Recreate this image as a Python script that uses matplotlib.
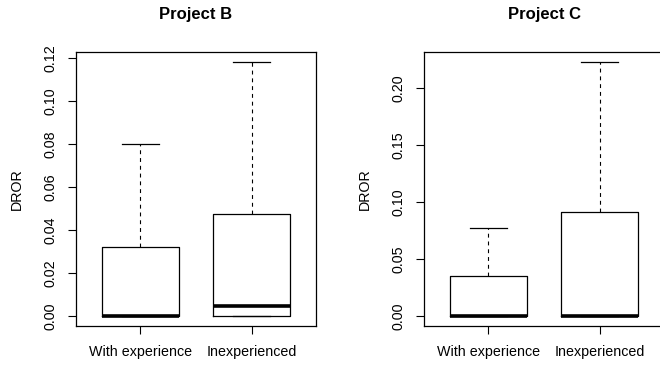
import matplotlib
matplotlib.use('Agg')
import matplotlib.pyplot as plt

plt.rcParams['font.family'] = ['Liberation Sans', 'DejaVu Sans']

groups = ['With experience', 'Inexperienced']

# five-number summaries
b_low = [0.0, 0.0]
b_q1 = [0.0, 0.0]
b_med = [0.0, 0.0046]
b_q3 = [0.0321, 0.0474]
b_high = [0.0798, 0.1181]

c_low = [0.0, 0.0]
c_q1 = [0.0, 0.0]
c_med = [0.0, 0.0]
c_q3 = [0.0353, 0.0910]
c_high = [0.0767, 0.2224]

b_ticks = [0.00, 0.02, 0.04, 0.06, 0.08, 0.10, 0.12]
b_ticklabels = ['0.00', '0.02', '0.04', '0.06', '0.08', '0.10', '0.12']
c_ticks = [0.00, 0.05, 0.10, 0.15, 0.20]
c_ticklabels = ['0.00', '0.05', '0.10', '0.15', '0.20']


def stats(low, q1, med, q3, high):
    return [dict(whislo=lo, q1=a, med=m, q3=b, whishi=hi, fliers=[])
            for lo, a, m, b, hi in zip(low, q1, med, q3, high)]


def rbox(ax, st, title, ticks, ticklabels):
    ax.bxp(st, positions=[1, 2], widths=0.7, showfliers=False,
           boxprops=dict(color='black', linewidth=0.9),
           medianprops=dict(color='black', linewidth=2.6, solid_capstyle='butt'),
           whiskerprops=dict(color='black', linewidth=0.8, linestyle=(0, (3.5, 3.5))),
           capprops=dict(color='black', linewidth=0.9),
           capwidths=0.33)
    top = max(s['whishi'] for s in st)
    pad = 0.04 * top
    ax.set_ylim(-pad, top + pad)
    ax.set_xlim(0.42, 2.58)
    ax.set_xticks([1, 2])
    ax.set_xticklabels(groups, fontsize=10.3)
    ax.set_yticks(ticks)
    ax.set_yticklabels(ticklabels, fontsize=10.3, rotation=90, va='center')
    ax.tick_params(direction='out', length=5.8, width=0.8, pad=7.5)
    ax.tick_params(axis='x', pad=8)
    ax.set_ylabel('DROR', fontsize=10.3, labelpad=14)
    ax.set_title(title, fontsize=12, fontweight='bold', pad=24)
    for sp in ax.spines.values():
        sp.set_linewidth(0.9)


fig = plt.figure(figsize=(6.6, 3.65), dpi=100)
ax1 = fig.add_axes([76 / 660, 1 - 326 / 365, 240 / 660, 274 / 365])
ax2 = fig.add_axes([424 / 660, 1 - 326 / 365, 240 / 660, 274 / 365])

rbox(ax1, stats(b_low, b_q1, b_med, b_q3, b_high), 'Project B', b_ticks, b_ticklabels)
rbox(ax2, stats(c_low, c_q1, c_med, c_q3, c_high), 'Project C', c_ticks, c_ticklabels)

fig.savefig('out.png', dpi=100)
